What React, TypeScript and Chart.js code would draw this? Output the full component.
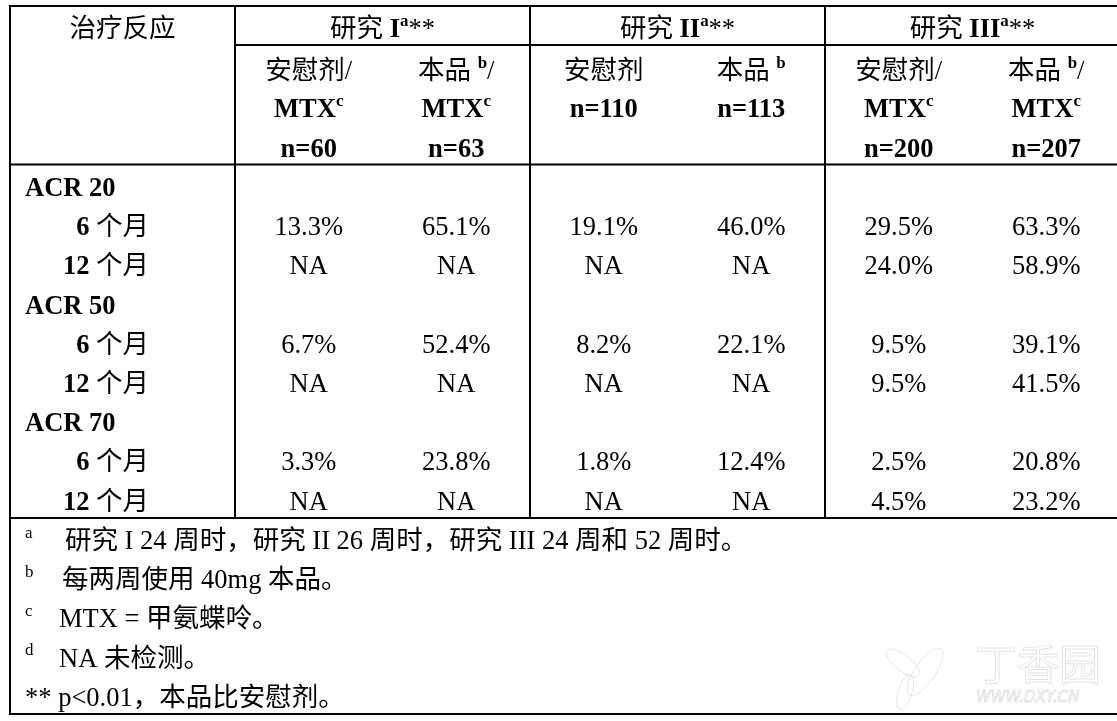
import React, { useEffect, useRef } from 'react';
import { Chart, registerables } from 'chart.js';

Chart.register(...registerables);

// ---------- data ----------
const endpoints = ['ACR 20', 'ACR 50', 'ACR 70'];
const timepoints = ['6 个月', '12 个月'];
const studyNames = ['研究 ', '研究 ', '研究 '];
const studyRoman = ['I', 'II', 'III'];
const placeboLabel = '安慰剂';
const productLabel = '本品 ';
const studyN = [[60, 63], [110, 113], [200, 207]];
const studyWithMTX = [true, false, true];
const firstColumnTitle = '治疗反应';

// rows: ACR20 6m, ACR20 12m, ACR50 6m, ACR50 12m, ACR70 6m, ACR70 12m ; null = NA
const study1Placebo = [13.3, null, 6.7, null, 3.3, null];
const study1Product = [65.1, null, 52.4, null, 23.8, null];
const study2Placebo = [19.1, null, 8.2, null, 1.8, null];
const study2Product = [46.0, null, 22.1, null, 12.4, null];
const study3Placebo = [29.5, 24.0, 9.5, 9.5, 2.5, 4.5];
const study3Product = [63.3, 58.9, 39.1, 41.5, 20.8, 23.2];

const footnoteMarks = ['a', 'b', 'c', 'd', ''];
const footnoteTexts = [
  '研究 I 24 周时，研究 II 26 周时，研究 III 24 周和 52 周时。',
  '每两周使用 40mg 本品。',
  'MTX = 甲氨蝶呤。',
  'NA 未检测。',
  '** p<0.01，本品比安慰剂。',
];

// ---------- layout ----------
const W = 1117;
const H = 721;
const COL_EDGES = [10, 235, 530, 825, 1120];
const LINE_TOP = 6;
const LINE_HEAD_MID = 45;
const LINE_HEAD_BOTTOM = 164.5;
const LINE_BODY_BOTTOM = 518;
const LINE_TABLE_BOTTOM = 714;
const TITLE_Y = 28;
const SUBHEAD_Y = [70, 108, 148];
const BODY_Y0 = 187;
const BODY_STEP = 39.2;
const FOOT_Y0 = 540;
const FOOT_STEP = 39.2;
const FONT_SIZE = 26.5;
const FOOT_SIZE = 26.5;
const FAMILY = '"Liberation Serif", "Noto Sans CJK SC", serif';

type Run = { t: string; b?: boolean; sup?: boolean };
type Cell = { x: number; y: number; runs: Run[]; align: 'left' | 'center' | 'right'; size?: number };

const fmt = (v: number | null) => (v === null ? 'NA' : v.toFixed(1) + '%');

function buildCells(): Cell[][] {
  const groups: Cell[][] = [];
  const studyCols = [
    [study1Placebo, study1Product],
    [study2Placebo, study2Product],
    [study3Placebo, study3Product],
  ];
  const head: Cell[] = [];
  head.push({ x: (COL_EDGES[0] + COL_EDGES[1]) / 2, y: TITLE_Y, runs: [{ t: firstColumnTitle }], align: 'center' });
  for (let s = 0; s < 3; s++) {
    head.push({
      x: (COL_EDGES[s + 1] + COL_EDGES[s + 2]) / 2,
      y: TITLE_Y,
      runs: [{ t: studyNames[s] }, { t: studyRoman[s], b: true }, { t: 'a', sup: true, b: true }, { t: '**' }],
      align: 'center',
    });
  }
  groups.push(head);
  const sub: Cell[] = [];
  for (let s = 0; s < 3; s++) {
    const w = (COL_EDGES[s + 2] - COL_EDGES[s + 1]) / 2;
    for (let g = 0; g < 2; g++) {
      const cx = COL_EDGES[s + 1] + w * (g + 0.5);
      const mtx = studyWithMTX[s];
      const line1: Run[] = g === 0 ? [{ t: placeboLabel }] : [{ t: productLabel }, { t: 'b', sup: true, b: true }];
      if (mtx) line1.push({ t: '/' });
      sub.push({ x: cx, y: SUBHEAD_Y[0], runs: line1, align: 'center' });
      let li = 1;
      if (mtx) {
        sub.push({ x: cx, y: SUBHEAD_Y[1], runs: [{ t: 'MTX', b: true }, { t: 'c', sup: true, b: true }], align: 'center' });
        li = 2;
      }
      sub.push({ x: cx, y: SUBHEAD_Y[li], runs: [{ t: 'n=' + studyN[s][g], b: true }], align: 'center' });
    }
  }
  groups.push(sub);
  const labels: Cell[] = [];
  endpoints.forEach((ep, e) => {
    const base = e * 3;
    labels.push({ x: 25, y: BODY_Y0 + BODY_STEP * base, runs: [{ t: ep, b: true }], align: 'left' });
    timepoints.forEach((tp, t) => {
      const [num, rest] = tp.split(' ');
      labels.push({
        x: 149,
        y: BODY_Y0 + BODY_STEP * (base + 1 + t),
        runs: [{ t: num + ' ', b: true }, { t: rest }],
        align: 'right',
      });
    });
  });
  groups.push(labels);
  for (let s = 0; s < 3; s++) {
    const w = (COL_EDGES[s + 2] - COL_EDGES[s + 1]) / 2;
    for (let g = 0; g < 2; g++) {
      const cx = COL_EDGES[s + 1] + w * (g + 0.5);
      const vals = studyCols[s][g];
      const col: Cell[] = vals.map((v, i) => {
        const e = Math.floor(i / 2);
        const t = i % 2;
        return { x: cx, y: BODY_Y0 + BODY_STEP * (e * 3 + 1 + t), runs: [{ t: fmt(v) }], align: 'center' };
      });
      groups.push(col);
    }
  }
  const foot: Cell[] = [];
  const footX = [65, 62, 59, 59, 25];
  footnoteTexts.forEach((txt, i) => {
    const y = FOOT_Y0 + FOOT_STEP * i;
    if (footnoteMarks[i]) foot.push({ x: 25, y, runs: [{ t: footnoteMarks[i], sup: true }], align: 'left', size: FOOT_SIZE });
    foot.push({ x: footX[i], y, runs: [{ t: txt }], align: 'left', size: FOOT_SIZE });
  });
  groups.push(foot);
  return groups;
}

function runFont(r: Run, size: number) {
  const s = r.sup ? size * 0.64 : size;
  return `${r.b ? 'bold ' : ''}${s}px ${FAMILY}`;
}

function drawRuns(ctx: CanvasRenderingContext2D, runs: Run[], x: number, y: number, align: string, size: number) {
  ctx.textAlign = 'left';
  ctx.textBaseline = 'alphabetic';
  const widths = runs.map((r) => {
    ctx.font = runFont(r, size);
    return ctx.measureText(r.t).width;
  });
  const total = widths.reduce((a, b) => a + b, 0);
  let cx = align === 'center' ? x - total / 2 : align === 'right' ? x - total : x;
  const base = y + size * 0.34;
  runs.forEach((r, i) => {
    ctx.font = runFont(r, size);
    ctx.fillText(r.t, cx, r.sup ? base - size * 0.42 : base);
    cx += widths[i];
  });
}

const tablePlugin = {
  id: 'tablePlugin',
  beforeDatasetsDraw(chart: any) {
    const ctx: CanvasRenderingContext2D = chart.ctx;
    const xs = chart.scales.x;
    const ys = chart.scales.y;
    const X = (v: number) => xs.getPixelForValue(v);
    const Y = (v: number) => ys.getPixelForValue(v);
    ctx.save();
    ctx.fillStyle = '#ffffff';
    ctx.fillRect(0, 0, chart.width, chart.height);
    // faint watermark
    ctx.strokeStyle = '#e4e4e4';
    ctx.lineWidth = 1;
    ctx.font = `42px "Noto Sans CJK SC", sans-serif`;
    ctx.textAlign = 'left';
    ctx.textBaseline = 'alphabetic';
    ctx.strokeText('丁香园', X(975), Y(680));
    ctx.font = `italic 15px "DejaVu Sans", sans-serif`;
    ctx.strokeText('WWW.DXY.CN', X(976), Y(702));
    ctx.beginPath();
    ctx.ellipse(X(925), Y(672), 10, 28, 0.6, 0, Math.PI * 2);
    ctx.stroke();
    ctx.beginPath();
    ctx.ellipse(X(903), Y(663), 8, 20, -0.9, 0, Math.PI * 2);
    ctx.stroke();
    ctx.beginPath();
    ctx.ellipse(X(905), Y(692), 7, 18, 0.3, 0, Math.PI * 2);
    ctx.stroke();

    ctx.strokeStyle = '#000000';
    ctx.lineWidth = 2;
    const h = (y: number, x0: number, x1: number) => {
      ctx.beginPath();
      ctx.moveTo(X(x0), Y(y));
      ctx.lineTo(X(x1), Y(y));
      ctx.stroke();
    };
    const v = (x: number, y0: number, y1: number) => {
      ctx.beginPath();
      ctx.moveTo(X(x), Y(y0));
      ctx.lineTo(X(x), Y(y1));
      ctx.stroke();
    };
    const L = COL_EDGES[0] - 1;
    const R = COL_EDGES[COL_EDGES.length - 1] + 1;
    h(LINE_TOP, L, R);
    h(LINE_HEAD_MID, COL_EDGES[1], R);
    h(LINE_HEAD_BOTTOM, L, R);
    h(LINE_BODY_BOTTOM, L, R);
    h(LINE_TABLE_BOTTOM, L, R);
    v(COL_EDGES[0], LINE_TOP, LINE_TABLE_BOTTOM);
    v(COL_EDGES[4], LINE_TOP, LINE_TABLE_BOTTOM);
    for (let i = 1; i < 4; i++) v(COL_EDGES[i], LINE_TOP, LINE_BODY_BOTTOM);
    ctx.restore();
  },
  afterDatasetsDraw(chart: any) {
    const ctx: CanvasRenderingContext2D = chart.ctx;
    ctx.save();
    ctx.fillStyle = '#000000';
    chart.data.datasets.forEach((ds: any, di: number) => {
      const meta = chart.getDatasetMeta(di);
      meta.data.forEach((el: any, i: number) => {
        const cell = ds.data[i] as Cell;
        drawRuns(ctx, cell.runs, el.x, el.y, cell.align, cell.size || FONT_SIZE);
      });
    });
    ctx.restore();
  },
};

export default function App() {
  const ref = useRef<HTMLCanvasElement | null>(null);
  useEffect(() => {
    if (!ref.current) return;
    const groups = buildCells();
    const chart = new Chart(ref.current, {
      type: 'scatter',
      data: {
        datasets: groups.map((g, i) => ({
          label: 'g' + i,
          data: g as any,
          pointRadius: 0,
          pointHoverRadius: 0,
        })),
      },
      options: {
        responsive: false,
        animation: false,
        events: [],
        layout: { padding: 0 },
        plugins: { legend: { display: false }, tooltip: { enabled: false } },
        scales: {
          x: { type: 'linear', min: 0, max: W, display: false },
          y: { type: 'linear', min: 0, max: H, reverse: true, display: false },
        },
      },
      plugins: [tablePlugin],
    });
    return () => chart.destroy();
  }, []);
  return (
    <div style={{ position: 'fixed', left: 0, top: 0, width: W, height: H, background: '#fff' }}>
      <canvas ref={ref} width={W} height={H} style={{ width: W, height: H, display: 'block' }} />
    </div>
  );
}
